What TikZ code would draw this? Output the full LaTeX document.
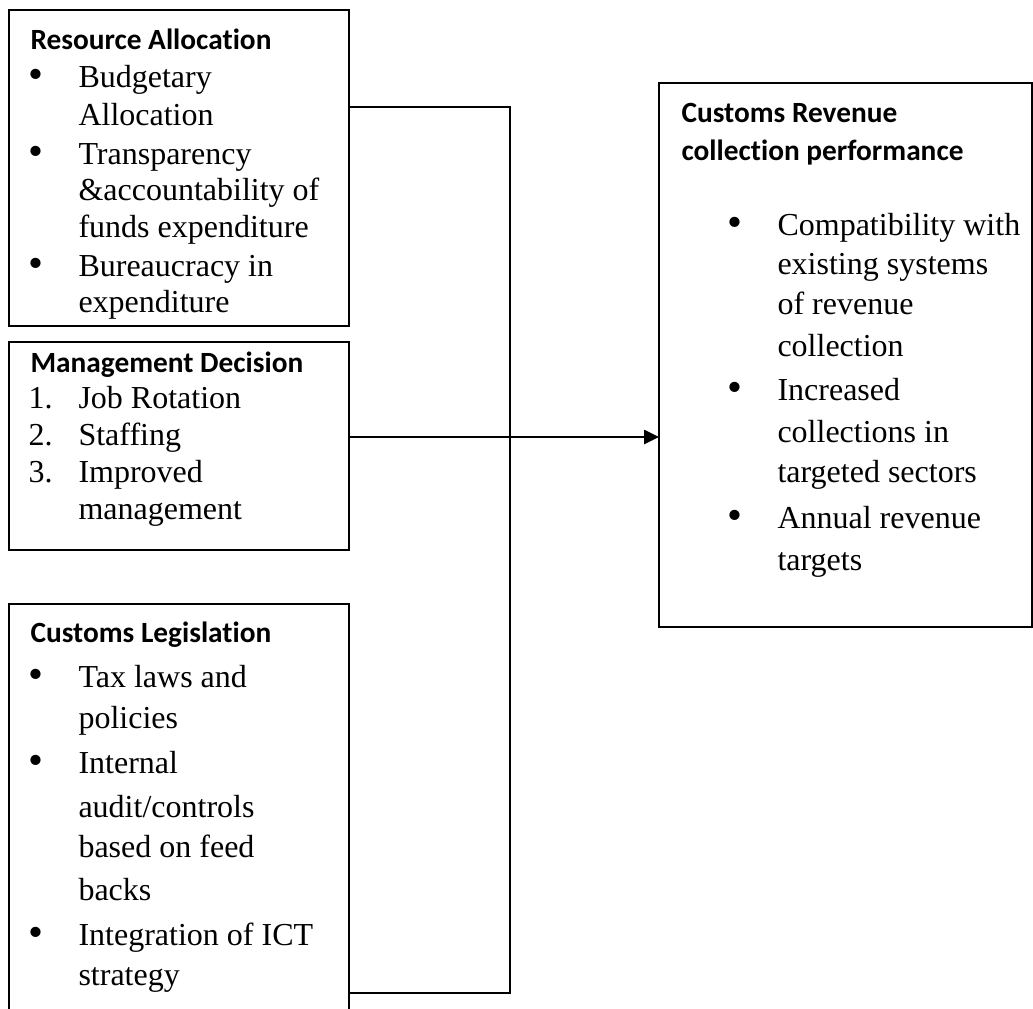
\documentclass[tikz,border=0pt]{standalone}
\usepackage{fontspec}
\setmainfont{Liberation Serif}[Ligatures=NoCommon]
\newfontfamily\headfont{Carlito}[Ligatures=NoCommon]
\usetikzlibrary{arrows.meta}
\begin{document}
\begin{tikzpicture}[x=0.375pt,y=-0.375pt,
  box/.style={draw, line width=0.75pt, inner sep=0pt, outer sep=0pt},
  head/.style={anchor=base west, inner sep=0pt, font=\headfont\bfseries\fontsize{11}{13}\selectfont},
  txt/.style={anchor=base west, inner sep=0pt, font=\fontsize{12}{14}\selectfont},
  bul/.style={anchor=center, inner sep=0pt, font=\fontsize{16}{16}\selectfont},
  link/.style={line width=0.75pt},
  tip/.style={-{Triangle[length=5.6pt,width=5.3pt]}}]
\useasboundingbox (0,0) rectangle (1033,1008);

% boxes
\node[box, minimum width=127.5pt, minimum height=118.5pt] (res) at (179,168) {};
\node[box, minimum width=127.5pt, minimum height=78pt] (man) at (179,446) {};
\node[box, minimum width=127.5pt, minimum height=156pt] (leg) at (179,812) {};
\node[box, minimum width=139.875pt, minimum height=204pt] (perf) at (845.5,355) {};

% Resource Allocation
\node[head] (resT) at (30,49) {Resource Allocation};
\node[bul] (resB1) at (36,79) {\textbullet};
\node[txt] (res1) at (78,87) {Budgetary};
\node[txt] (res2) at (78,125) {Allocation};
\node[bul] (resB2) at (36,156) {\textbullet};
\node[txt] (res3) at (78,164) {Transparency};
\node[txt] (res4) at (78,200) {\&accountability of};
\node[txt] (res5) at (78,237) {funds expenditure};
\node[bul] (resB3) at (36,268) {\textbullet};
\node[txt] (res6) at (78,276) {Bureaucracy in};
\node[txt] (res7) at (78,312) {expenditure};

% Management Decision
\node[head] (manT) at (30,372) {Management Decision};
\node[txt] (manN1) at (28,408) {1.};
\node[txt] (man1) at (78,408) {Job Rotation};
\node[txt] (manN2) at (28,445) {2.};
\node[txt] (man2) at (78,445) {Staffing};
\node[txt] (manN3) at (28,482) {3.};
\node[txt] (man3) at (78,482) {Improved};
\node[txt] (man4) at (78,519) {management};

% Customs Legislation
\node[head] (legT) at (30,642) {Customs Legislation};
\node[bul] (legB1) at (36,679) {\textbullet};
\node[txt] (leg1) at (78,687) {Tax laws and};
\node[txt] (leg2) at (78,728) {policies};
\node[bul] (legB2) at (36,765) {\textbullet};
\node[txt] (leg3) at (78,773) {Internal};
\node[txt] (leg4) at (78,817) {audit/controls};
\node[txt] (leg5) at (78,857) {based on feed};
\node[txt] (leg6) at (78,900) {backs};
\node[bul] (legB3) at (36,937) {\textbullet};
\node[txt] (leg7) at (78,945) {Integration of ICT};
\node[txt] (leg8) at (78,985) {strategy};

% Customs Revenue collection performance
\node[head] (perfT1) at (681,122) {Customs Revenue};
\node[head] (perfT2) at (681,160) {collection performance};
\node[bul] (perfB1) at (735,227) {\textbullet};
\node[txt] (perf1) at (777,235) {Compatibility with};
\node[txt] (perf2) at (777,274) {existing systems};
\node[txt] (perf3) at (777,314) {of revenue};
\node[txt] (perf4) at (777,356) {collection};
\node[bul] (perfB2) at (735,392) {\textbullet};
\node[txt] (perf5) at (777,400) {Increased};
\node[txt] (perf6) at (777,442) {collections in};
\node[txt] (perf7) at (777,482) {targeted sectors};
\node[bul] (perfB3) at (735,520) {\textbullet};
\node[txt] (perf8) at (777,528) {Annual revenue};
\node[txt] (perf9) at (777,570) {targets};

% connectors
\coordinate (j1) at (510,107);
\coordinate (j2) at (510,993);
\coordinate (a0) at (347,437);
\draw[link] (res.east |- j1) -- (j1) -- (j2) -- (leg.east |- j2);
\draw[link, tip] (man.east |- a0) -- (perf.west |- a0);
\end{tikzpicture}
\end{document}
